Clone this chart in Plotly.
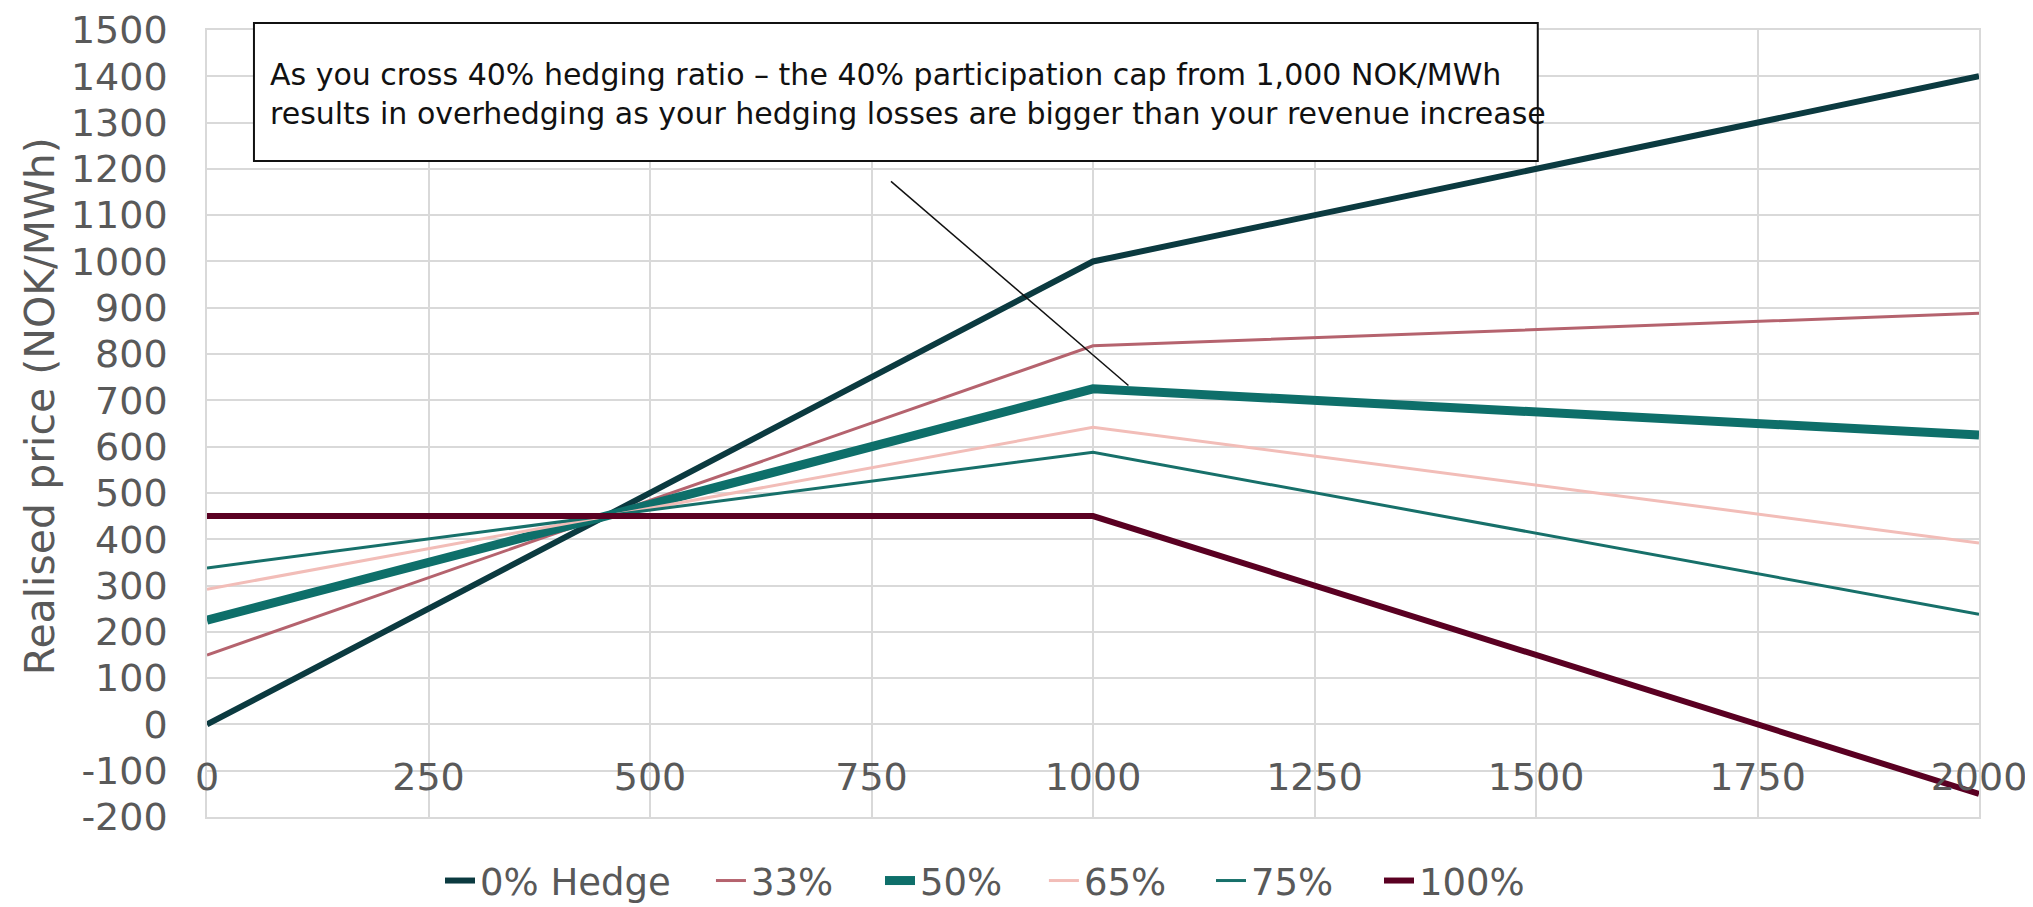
import plotly.graph_objects as go

# Data
spot_price = [0, 1000, 2000]
series_names = ["0% Hedge", "33%", "50%", "65%", "75%", "100%"]
hedge_0 = [0, 1000, 1400]
hedge_33 = [150, 818, 888]
hedge_50 = [225, 725, 625]
hedge_65 = [292, 642, 392]
hedge_75 = [338, 588, 238]
hedge_100 = [450, 450, -150]
x_ticks = [0, 250, 500, 750, 1000, 1250, 1500, 1750, 2000]
y_ticks = list(range(-200, 1501, 100))

colors = ["#0b3a40", "#b5636e", "#0e6f6a", "#f2bdb8", "#17706a", "#5a0022"]
widths = [6, 3, 9, 3, 3, 6]
all_series = [hedge_0, hedge_33, hedge_50, hedge_65, hedge_75, hedge_100]
legend_x = [0.1315, 0.2844, 0.3798, 0.4723, 0.5666, 0.6614]

FONT = "DejaVu Sans"
GREY = "#595959"
GRID = "#d9d9d9"

fig = go.Figure()
legend_layouts = {}
for i, (name, vals, c, w, lx) in enumerate(zip(series_names, all_series, colors, widths, legend_x)):
    key = "legend" if i == 0 else f"legend{i + 1}"
    fig.add_trace(go.Scatter(x=spot_price, y=vals, mode="lines", name=name,
                             line=dict(color=c, width=w), cliponaxis=False,
                             legend=key))
    legend_layouts[key] = dict(orientation="h", x=lx, xanchor="left", y=-0.0813,
                               yanchor="middle", font=dict(family=FONT, size=37, color=GREY),
                               itemwidth=30, bgcolor="rgba(0,0,0,0)", borderwidth=0)

# annotation geometry (data / paper coordinates)
callout_text = ("As you cross 40% hedging ratio – the 40% participation cap from 1,000 NOK/MWh<br>"
                "results in overhedging as your hedging losses are bigger than your revenue increase")
pointer_start = (772, 1173)
pointer_end = (1040, 732)
box = dict(x0=0.0265, x1=0.751, y0=0.8336, y1=1.0089)

fig.add_shape(type="line", xref="x", yref="y",
              x0=pointer_start[0], y0=pointer_start[1], x1=pointer_end[0], y1=pointer_end[1],
              line=dict(color="#111111", width=1.5), layer="above")
fig.add_shape(type="rect", xref="paper", yref="paper", **box,
              line=dict(color="#111111", width=2), fillcolor="white", layer="above")
fig.add_annotation(xref="paper", yref="paper", x=0.0344, y=0.9187, xanchor="left",
                   yanchor="middle", align="left", showarrow=False, text=callout_text,
                   font=dict(family=FONT, size=30, color="#111111"))
# y-axis title
fig.add_annotation(xref="paper", yref="paper", x=-0.0942, y=0.522, xanchor="center",
                   yanchor="middle", textangle=-90, showarrow=False,
                   text="Realised price (NOK/MWh)",
                   font=dict(family=FONT, size=41, color=GREY))

fig.update_layout(
    width=2025, height=899,
    margin=dict(l=199, r=54, t=22, b=90, autoexpand=False),
    paper_bgcolor="white", plot_bgcolor="white",
    font=dict(family=FONT, color=GREY),
    showlegend=True,
    **legend_layouts,
)
fig.update_xaxes(range=[0, 2000], tickvals=x_ticks, ticktext=[str(v) for v in x_ticks],
                 showgrid=True, gridcolor=GRID, gridwidth=1.5, zeroline=False,
                 showline=True, mirror=True, linecolor=GRID, linewidth=1.5,
                 ticks="", tickfont=dict(family=FONT, size=38, color=GREY),
                 ticklabelstandoff=-74, automargin=False)
fig.update_yaxes(range=[-200, 1500], tickvals=y_ticks, ticktext=[str(v) for v in y_ticks],
                 showgrid=True, gridcolor=GRID, gridwidth=1.5, zeroline=False,
                 showline=True, mirror=True, linecolor=GRID, linewidth=1.5,
                 ticks="", tickfont=dict(family=FONT, size=38, color=GREY),
                 ticklabelstandoff=30, automargin=False)

fig.write_html("out.html")
